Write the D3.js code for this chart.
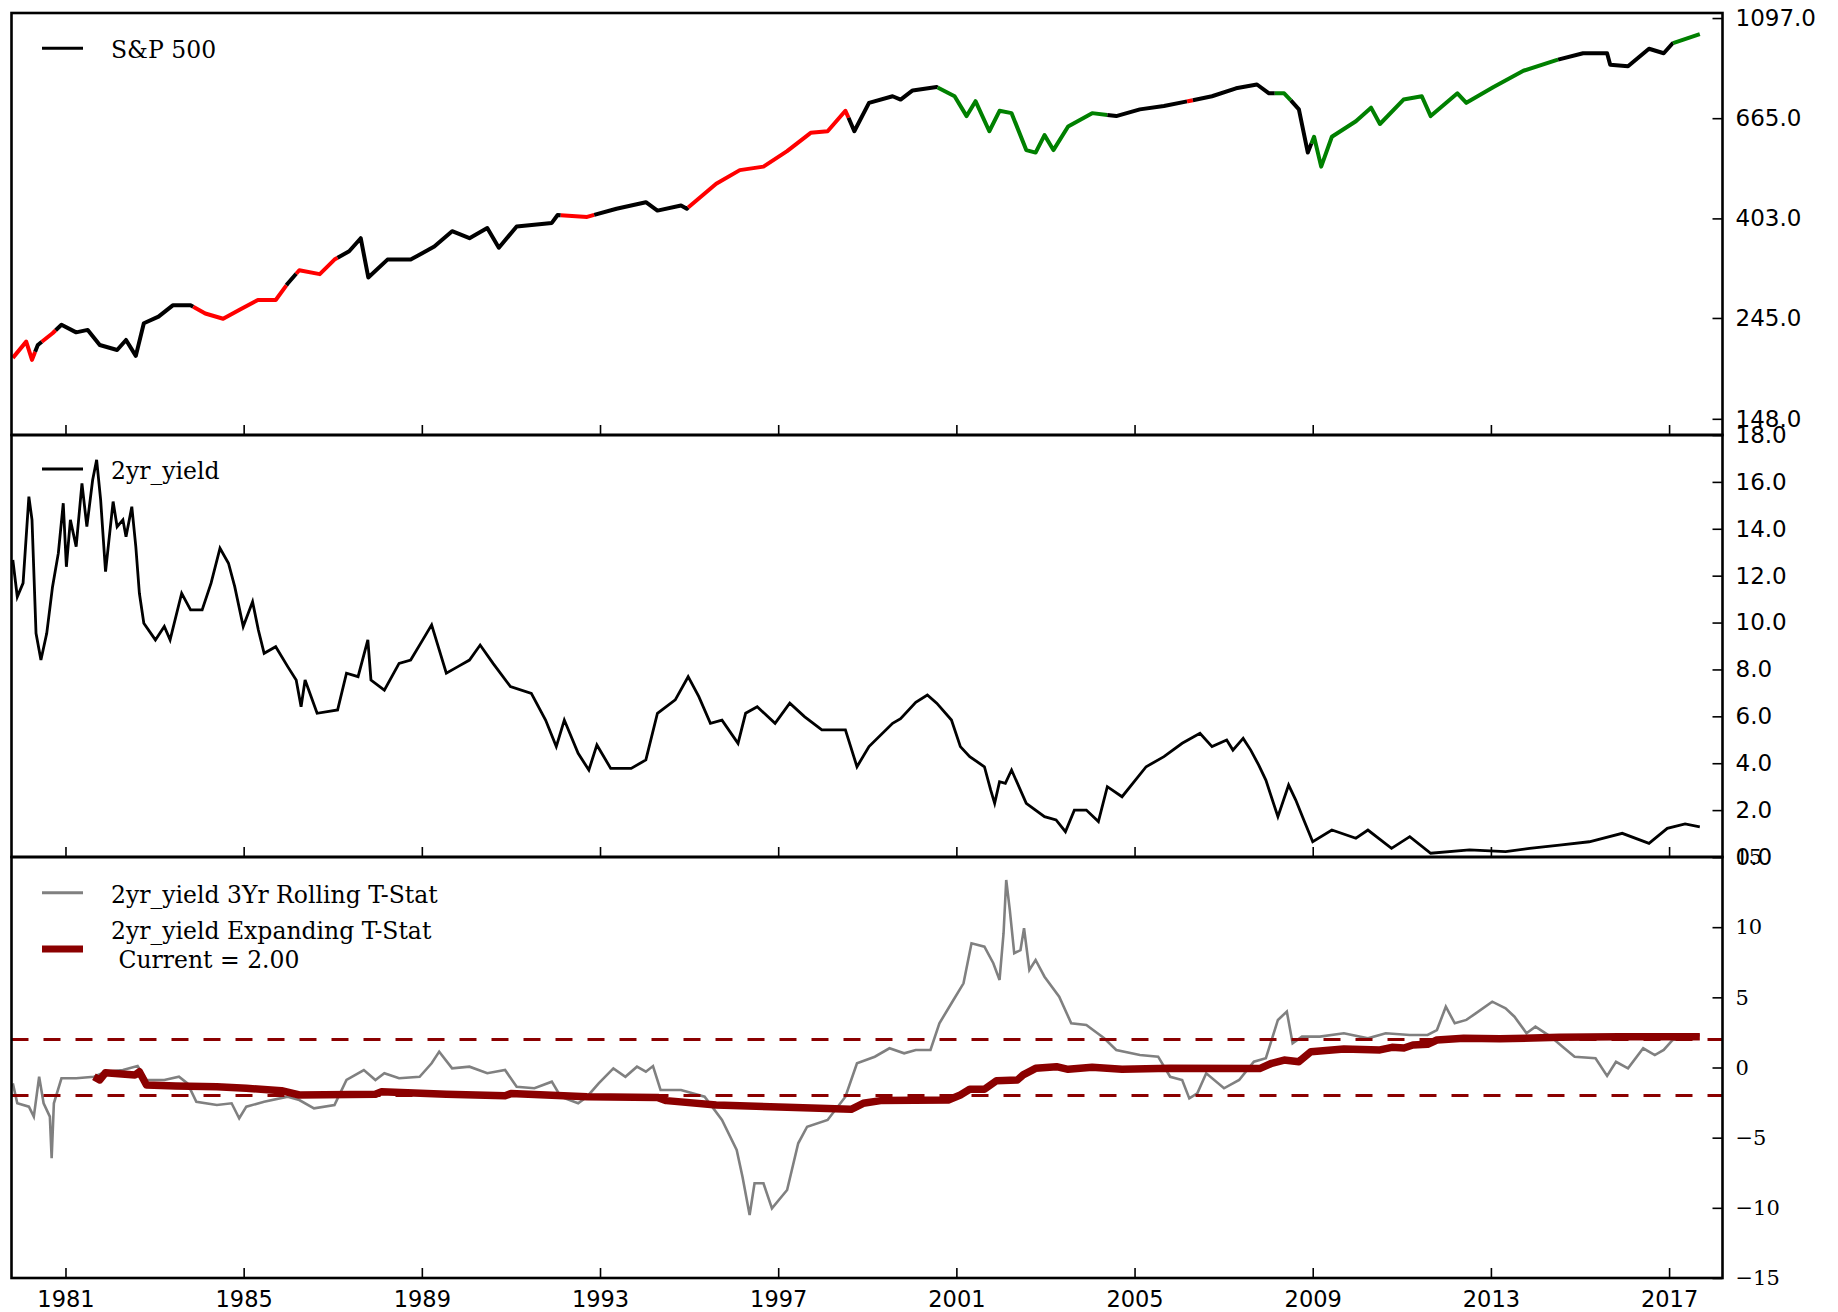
<!DOCTYPE html>
<html>
<head>
<meta charset="utf-8">
<script src="https://cdn.jsdelivr.net/npm/d3@7"></script>
<style>
  body { margin: 0; background: #fff; }
  svg { display: block; }
</style>
</head>
<body>
<div id="chart"></div>
<script>
// ---- data (decimal years) ----
var xTickYears = [1981, 1985, 1989, 1993, 1997, 2001, 2005, 2009, 2013, 2017];

var spYears = [1979.82, 1980.12, 1980.25, 1980.38, 1980.71, 1980.91, 1981.24, 1981.5, 1981.77, 1982.16, 1982.36,
  1982.58, 1982.76, 1983.09, 1983.41, 1983.81, 1984.14, 1984.54, 1984.93, 1985.32, 1985.72,
  1985.99, 1986.25, 1986.71, 1987.04, 1987.37, 1987.63, 1987.8, 1988.23, 1988.75, 1989.28,
  1989.68, 1990.07, 1990.47, 1990.73, 1991.13, 1991.92, 1992.05, 1992.71, 1993.37, 1994.03,
  1994.29, 1994.82, 1994.95, 1995.61, 1996.14, 1996.67, 1997.2, 1997.73, 1998.11, 1998.51,
  1998.71, 1999.04, 1999.57, 1999.75, 2000.02, 2000.56, 2000.96, 2001.23, 2001.43, 2001.74,
  2001.97, 2002.24, 2002.57, 2002.78, 2002.98, 2003.18, 2003.51, 2004.05, 2004.59, 2005.12,
  2005.66, 2006.2, 2006.74, 2007.28, 2007.75, 2008.02, 2008.36, 2008.69, 2008.89, 2009.03,
  2009.19, 2009.43, 2009.97, 2010.31, 2010.51, 2011.04, 2011.45, 2011.65, 2012.25, 2012.45,
  2013.06, 2013.73, 2014.47, 2015.07, 2015.61, 2015.68, 2016.08, 2016.55, 2016.88, 2017.08, 2017.69];
var spValues = [200.7, 217.7, 198.7, 214, 227, 236.8, 228, 230.8, 214, 208.8, 219.5,
  202.7, 238.6, 246.6, 261, 261, 250.5, 244, 256, 268, 268,
  291, 311, 305, 328, 342, 365, 300, 328, 328, 350,
  378, 365, 384, 348, 387, 394, 410, 406, 423, 437,
  419, 430, 423, 479, 513, 522, 564, 618, 623, 690,
  623, 718, 742, 730, 764, 777, 742, 672, 724, 623,
  690, 682, 567, 560, 611, 567, 638, 682, 672, 695,
  707, 724, 742, 772, 787, 753, 753, 695, 560, 606,
  522, 606, 655, 701, 646, 730, 742, 672, 753, 718,
  777, 843, 889, 920, 920, 869, 862, 941, 920, 967, 1012];

// regime of each stretch of the S&P line: 1 = red, 0 = black, -1 = green
var spRegimeStarts = [1979.79, 1980.32, 1980.47, 1980.78, 1983.87, 1985.96, 1986.18, 1987.11, 1992.12, 1992.87,
  1994.98, 1998.58, 2000.58, 2004.39, 2006.18, 2006.31, 2008.15, 2008.51, 2008.97, 2014.51, 2017.09];
var spRegimes = [1, 0, 1, 0, 1, 0, 1, 0, 1, 0,
  1, 0, -1, 0, 1, 0, -1, 0, -1, 0, -1];

var yieldYears = [1979.82, 1979.92, 1980.05, 1980.18, 1980.25, 1980.34, 1980.45, 1980.58, 1980.71, 1980.84,
  1980.95, 1981.02, 1981.11, 1981.24, 1981.37, 1981.48, 1981.61, 1981.7, 1981.79, 1981.9,
  1982.07, 1982.16, 1982.29, 1982.36, 1982.49, 1982.58, 1982.66, 1982.76, 1983.02, 1983.22,
  1983.35, 1983.61, 1983.81, 1984.07, 1984.27, 1984.47, 1984.66, 1984.8, 1984.99, 1985.2,
  1985.33, 1985.46, 1985.72, 1985.99, 1986.18, 1986.29, 1986.38, 1986.65, 1987.11, 1987.31,
  1987.57, 1987.79, 1987.86, 1988.16, 1988.49, 1988.75, 1989.02, 1989.22, 1989.55, 1989.81,
  1990.07, 1990.31, 1990.6, 1990.99, 1991.46, 1991.78, 1992.02, 1992.2, 1992.51, 1992.75,
  1992.93, 1993.24, 1993.7, 1994.03, 1994.29, 1994.69, 1994.98, 1995.22, 1995.48, 1995.74,
  1996.1, 1996.27, 1996.53, 1996.93, 1997.26, 1997.59, 1997.98, 1998.51, 1998.77, 1999.04,
  1999.57, 1999.75, 2000.09, 2000.35, 2000.56, 2000.89, 2001.09, 2001.3, 2001.63, 2001.77,
  2001.86, 2001.97, 2002.1, 2002.24, 2002.57, 2002.98, 2003.24, 2003.45, 2003.65, 2003.92,
  2004.19, 2004.39, 2004.72, 2005.26, 2005.66, 2006.07, 2006.47, 2006.74, 2007.07, 2007.21,
  2007.44, 2007.61, 2007.79, 2007.95, 2008.22, 2008.46, 2008.62, 2008.8, 2009.0, 2009.43,
  2009.97, 2010.24, 2010.77, 2011.18, 2011.65, 2012.52, 2013.33, 2013.87, 2014.54, 2015.21,
  2015.95, 2016.55, 2016.96, 2017.36, 2017.69];
var yieldValues = [12.67, 11.1, 11.68, 15.37, 14.38, 9.54, 8.4, 9.54, 11.53, 12.96,
  15.09, 12.38, 14.38, 13.24, 15.94, 14.09, 16.08, 16.94, 15.23, 12.17,
  15.16, 14.09, 14.38, 13.66, 14.94, 13.24, 11.25, 9.97, 9.26, 9.83,
  9.26, 11.25, 10.54, 10.54, 11.68, 13.17, 12.53, 11.53, 9.83, 10.89,
  9.68, 8.69, 8.97, 8.12, 7.55, 6.41, 7.55, 6.13, 6.27, 7.84,
  7.69, 9.26, 7.55, 7.12, 8.26, 8.4, 9.26, 9.9, 7.84, 8.12,
  8.4, 9.04, 8.26, 7.27, 6.98, 5.84, 4.71, 5.84, 4.42, 3.71,
  4.78, 3.78, 3.78, 4.14, 6.13, 6.7, 7.69, 6.84, 5.7, 5.84,
  4.85, 6.13, 6.41, 5.7, 6.56, 5.99, 5.42, 5.42, 3.85, 4.71,
  5.7, 5.9, 6.6, 6.91, 6.56, 5.84, 4.71, 4.28, 3.85, 2.86,
  2.29, 3.21, 3.14, 3.71, 2.29, 1.72, 1.58, 1.08, 2.0, 2.0,
  1.51, 3.0, 2.57, 3.85, 4.28, 4.85, 5.28, 4.71, 4.99, 4.56,
  5.06, 4.56, 3.92, 3.28, 1.72, 3.07, 2.43, 1.58, 0.65, 1.15,
  0.8, 1.15, 0.37, 0.87, 0.16, 0.3, 0.23, 0.37, 0.51, 0.65,
  1.01, 0.58, 1.22, 1.41, 1.29];

var rollYears = [1979.82, 1979.92, 1980.18, 1980.29, 1980.41, 1980.51, 1980.65, 1980.69, 1980.74, 1980.91,
  1981.24, 1981.64, 1981.9, 1982.29, 1982.62, 1982.82, 1983.22, 1983.55, 1983.74, 1983.94,
  1984.4, 1984.73, 1984.9, 1985.06, 1985.46, 1985.99, 1986.25, 1986.58, 1987.04, 1987.31,
  1987.7, 1987.96, 1988.16, 1988.49, 1988.95, 1989.22, 1989.39, 1989.68, 1990.07, 1990.47,
  1990.87, 1991.13, 1991.53, 1991.92, 1992.12, 1992.51, 1992.71, 1992.97, 1993.3, 1993.57,
  1993.83, 1994.03, 1994.19, 1994.36, 1994.82, 1995.35, 1995.74, 1996.07, 1996.2, 1996.36,
  1996.47, 1996.67, 1996.86, 1997.2, 1997.45, 1997.65, 1998.11, 1998.51, 1998.77, 1999.17,
  1999.5, 1999.83, 2000.09, 2000.42, 2000.62, 2000.89, 2001.16, 2001.34, 2001.63, 2001.83,
  2001.97, 2002.06, 2002.12, 2002.2, 2002.3, 2002.44, 2002.52, 2002.64, 2002.78, 2002.98,
  2003.31, 2003.58, 2003.92, 2004.32, 2004.59, 2005.12, 2005.53, 2005.8, 2006.07, 2006.23,
  2006.41, 2006.61, 2007.01, 2007.35, 2007.68, 2007.95, 2008.22, 2008.42, 2008.55, 2008.76,
  2009.16, 2009.7, 2010.24, 2010.64, 2011.18, 2011.58, 2011.79, 2011.99, 2012.19, 2012.45,
  2012.66, 2013.03, 2013.33, 2013.53, 2013.8, 2014.0, 2014.34, 2014.61, 2014.88, 2015.35,
  2015.61, 2015.81, 2016.08, 2016.42, 2016.68, 2016.88, 2017.08, 2017.69];
var rollValues = [-1.13, -2.55, -2.79, -3.5, -0.66, -2.55, -3.5, -6.47, -2.55, -0.77,
  -0.77, -0.66, -0.3, -0.18, 0.1, -0.89, -0.89, -0.66, -1.13, -2.44,
  -2.67, -2.55, -3.62, -2.79, -2.44, -2.08, -2.32, -2.91, -2.67, -0.89,
  -0.18, -0.89, -0.41, -0.77, -0.66, 0.3, 1.13, -0.06, 0.06, -0.41,
  -0.18, -1.37, -1.48, -1.01, -2.08, -2.55, -2.08, -1.13, -0.06, -0.66,
  0.06, -0.3, 0.1, -1.6, -1.6, -2.08, -3.74, -5.88, -7.78, -10.51,
  -8.25, -8.25, -10.04, -8.73, -5.4, -4.22, -3.74, -2.08, 0.3, 0.77,
  1.37, 1.01, 1.25, 1.25, 3.15, 4.58, 6.0, 8.85, 8.61, 7.43,
  6.24, 9.57, 13.36, 11.23, 8.14, 8.37, 9.92, 6.95, 7.66, 6.47,
  5.05, 3.15, 3.03, 2.08, 1.25, 0.89, 0.77, -0.66, -0.89, -2.2,
  -1.84, -0.41, -1.48, -0.89, 0.41, 0.66, 3.39, 3.98, 1.72, 2.2,
  2.2, 2.44, 2.08, 2.44, 2.32, 2.32, 2.67, 4.33, 3.15, 3.39,
  3.86, 4.69, 4.22, 3.62, 2.44, 2.91, 2.2, 1.48, 0.77, 0.66,
  -0.6, 0.41, -0.06, 1.37, 0.89, 1.25, 1.96, 2.32];

var expYears = [1981.64, 1981.77, 1981.9, 1982.56, 1982.66, 1982.82, 1983.48, 1984.4, 1985.06, 1985.85,
  1986.25, 1987.96, 1988.1, 1989.55, 1990.87, 1991.0, 1992.71, 1994.29, 1994.49, 1995.61,
  1997.2, 1998.64, 1998.91, 1999.3, 2000.82, 2001.09, 2001.3, 2001.63, 2001.9, 2002.37,
  2002.5, 2002.78, 2003.25, 2003.51, 2004.05, 2004.72, 2005.8, 2007.81, 2008.08, 2008.36,
  2008.69, 2008.96, 2009.43, 2009.7, 2010.51, 2010.78, 2011.05, 2011.25, 2011.58, 2011.79,
  2012.39, 2013.2, 2014.54, 2015.88, 2017.69];
var expValues = [-0.66, -0.89, -0.37, -0.53, -0.3, -1.25, -1.32, -1.37, -1.48, -1.65,
  -1.96, -1.91, -1.72, -1.91, -2.01, -1.86, -2.08, -2.13, -2.36, -2.67,
  -2.84, -2.98, -2.55, -2.36, -2.32, -1.96, -1.55, -1.55, -0.94, -0.89,
  -0.53, -0.06, 0.06, -0.13, 0.02, -0.13, -0.06, -0.08, 0.3, 0.53,
  0.41, 1.13, 1.25, 1.32, 1.25, 1.44, 1.39, 1.6, 1.65, 1.96,
  2.08, 2.04, 2.16, 2.2, 2.2];

var spTicks = [148, 245, 403, 665, 1097];
var yieldTicks = [0, 2, 4, 6, 8, 10, 12, 14, 16, 18];
var tstatTicks = [-15, -10, -5, 0, 5, 10, 15];
var bandLevels = [-2, 2];

// ---- layout ----
var width = 1838, height = 1312;
var left = 11.5, right = 1722.5;
var panels = [{top: 13, bottom: 435}, {top: 435, bottom: 857}, {top: 857, bottom: 1278}];

function toDate(y) {
  var yr = Math.floor(y), s = new Date(yr, 0, 1), e = new Date(yr + 1, 0, 1);
  return new Date(+s + (y - yr) * (e - s));
}

var svg = d3.select("#chart").append("svg")
  .attr("width", width)
  .attr("height", height);

var x = d3.scaleTime()
  .domain([toDate(1979.79), toDate(2018.2)])
  .range([left, right]);

var ySp = d3.scaleLog().domain([136.5, 1125]).range([panels[0].bottom, panels[0].top]);
var yYield = d3.scaleLinear().domain([0, 18]).range([panels[1].bottom, panels[1].top]);
var yT = d3.scaleLinear().domain([-15, 15]).range([panels[2].bottom, panels[2].top]);

var regimeColor = d3.scaleOrdinal().domain([1, 0, -1]).range(["#ff0000", "#000000", "#008000"]);

// clip paths
var defs = svg.append("defs");
panels.forEach(function(p, i) {
  defs.append("clipPath").attr("id", "clip" + i)
    .append("rect")
    .attr("x", left).attr("y", p.top)
    .attr("width", right - left).attr("height", p.bottom - p.top);
});

function pairs(xs, ys) { return xs.map(function(d, i) { return [d, ys[i]]; }); }

// ---- panel 1: S&P 500 coloured by regime ----
var spData = pairs(spYears, spValues);
var spLine = d3.line()
  .x(function(d) { return x(toDate(d[0])); })
  .y(function(d) { return ySp(d[1]); });

function spAt(t) {
  var i = d3.bisectLeft(spYears, t);
  if (i <= 0) return spValues[0];
  if (i >= spYears.length) return spValues[spValues.length - 1];
  var a = spYears[i - 1], b = spYears[i];
  return spValues[i - 1] + (spValues[i] - spValues[i - 1]) * (t - a) / (b - a);
}

var g1 = svg.append("g").attr("clip-path", "url(#clip0)");
spRegimeStarts.forEach(function(s, i) {
  var e = i + 1 < spRegimeStarts.length ? spRegimeStarts[i + 1] : spYears[spYears.length - 1];
  var s0 = Math.max(s, spYears[0]);
  var seg = [[s0, spAt(s0)]]
    .concat(spData.filter(function(d) { return d[0] > s0 && d[0] < e; }))
    .concat([[e, spAt(e)]]);
  g1.append("path")
    .datum(seg)
    .attr("fill", "none")
    .attr("stroke", regimeColor(spRegimes[i]))
    .attr("stroke-width", 4)
    .attr("stroke-linejoin", "round")
    .attr("d", spLine);
});

// ---- panel 2: 2yr yield ----
svg.append("g").attr("clip-path", "url(#clip1)")
  .append("path")
  .datum(pairs(yieldYears, yieldValues))
  .attr("fill", "none")
  .attr("stroke", "#000")
  .attr("stroke-width", 2.8)
  .attr("d", d3.line()
    .x(function(d) { return x(toDate(d[0])); })
    .y(function(d) { return yYield(d[1]); }));

// ---- panel 3: t-stats ----
var g3 = svg.append("g").attr("clip-path", "url(#clip2)");
var tLine = d3.line()
  .x(function(d) { return x(toDate(d[0])); })
  .y(function(d) { return yT(d[1]); });

g3.append("path")
  .datum(pairs(rollYears, rollValues))
  .attr("fill", "none")
  .attr("stroke", "#808080")
  .attr("stroke-width", 2.6)
  .attr("d", tLine);

g3.append("path")
  .datum(pairs(expYears, expValues))
  .attr("fill", "none")
  .attr("stroke", "#8b0000")
  .attr("stroke-width", 7.5)
  .attr("stroke-linejoin", "round")
  .attr("d", tLine);

g3.selectAll("line.band")
  .data(bandLevels)
  .enter().append("line")
  .attr("class", "band")
  .attr("x1", left).attr("x2", right)
  .attr("y1", function(d) { return yT(d); })
  .attr("y2", function(d) { return yT(d); })
  .attr("stroke", "#8b0000")
  .attr("stroke-width", 3)
  .attr("stroke-dasharray", "17,15");

// ---- axes ----
function styleAxis(g, font, size) {
  g.select(".domain").remove();
  g.selectAll(".tick line").attr("stroke", "#000").attr("stroke-width", 1.6);
  g.selectAll(".tick text")
    .attr("fill", "#000")
    .style("font-family", font)
    .style("font-size", size + "px");
}

panels.forEach(function(p, i) {
  var ax = svg.append("g")
    .attr("transform", "translate(0," + p.bottom + ")")
    .call(d3.axisBottom(x)
      .tickValues(xTickYears.map(function(yv) { return new Date(yv, 0, 1); }))
      .tickSize(-10)
      .tickPadding(13)
      .tickFormat(i === 2 ? d3.timeFormat("%Y") : function() { return ""; }));
  styleAxis(ax, "DejaVu Sans", 22.5);
});

var ax1 = svg.append("g")
  .attr("transform", "translate(" + right + ",0)")
  .call(d3.axisRight(ySp).tickValues(spTicks).tickSize(-10).tickPadding(13).tickFormat(d3.format(".1f")));
styleAxis(ax1, "DejaVu Sans", 23);

var ax2 = svg.append("g")
  .attr("transform", "translate(" + right + ",0)")
  .call(d3.axisRight(yYield).tickValues(yieldTicks).tickSize(-10).tickPadding(13).tickFormat(d3.format(".1f")));
styleAxis(ax2, "DejaVu Sans", 23);

var ax3 = svg.append("g")
  .attr("transform", "translate(" + right + ",0)")
  .call(d3.axisRight(yT).tickValues(tstatTicks).tickSize(-10).tickPadding(13).tickFormat(d3.format("d")));
styleAxis(ax3, "DejaVu Serif", 21);

// frames
svg.selectAll("rect.frame")
  .data(panels)
  .enter().append("rect")
  .attr("class", "frame")
  .attr("x", left).attr("y", function(d) { return d.top; })
  .attr("width", right - left)
  .attr("height", function(d) { return d.bottom - d.top; })
  .attr("fill", "none")
  .attr("stroke", "#000")
  .attr("stroke-width", 2.6);

// ---- legends ----
function legendEntry(yLine, color, lw, lines, yText) {
  svg.append("line")
    .attr("x1", 42).attr("x2", 83)
    .attr("y1", yLine).attr("y2", yLine)
    .attr("stroke", color).attr("stroke-width", lw);
  lines.forEach(function(t, k) {
    svg.append("text")
      .attr("x", 111).attr("y", yText + k * 29)
      .attr("xml:space", "preserve")
      .style("white-space", "pre")
      .style("font-family", "DejaVu Serif")
      .style("font-size", "23.5px")
      .attr("fill", "#000")
      .text(t);
  });
}

legendEntry(48.3, "#000", 3, ["S&P 500"], 57.5);
legendEntry(469, "#000", 3, ["2yr_yield"], 478.5);
legendEntry(892.7, "#808080", 3, ["2yr_yield 3Yr Rolling T-Stat"], 902.5);
legendEntry(949, "#8b0000", 7, ["2yr_yield Expanding T-Stat", " Current = 2.00"], 939);
</script>
</body>
</html>
